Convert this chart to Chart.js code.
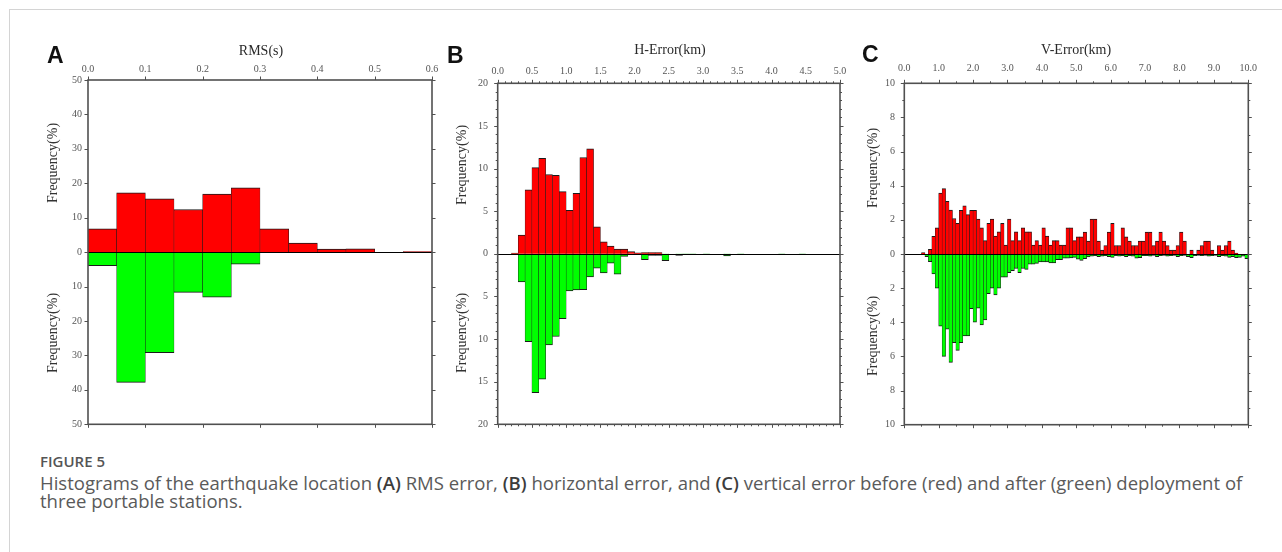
<!DOCTYPE html>
<html>
<head>
<meta charset="utf-8">
<script src="https://cdn.jsdelivr.net/npm/chart.js@4.4.1/dist/chart.umd.min.js"></script>
<style>
  html, body { margin: 0; padding: 0; background: #fff; }
  body { width: 1282px; height: 552px; position: relative; overflow: hidden; }
  .frame { position: absolute; left: 9px; top: 9px; width: 1300px; height: 600px;
           border-left: 1px solid #d4d4d4; border-top: 1px solid #d4d4d4; }
  canvas { position: absolute; }
  .cap { position: absolute; left: 40px; font-family: "Open Sans", sans-serif; color: #5a5a5a;
         white-space: nowrap; line-height: 1; }
  .cap b { font-weight: 600; color: #3c3c3c; }
</style>
</head>
<body>
<div class="frame"></div>
<canvas id="panelA" width="415" height="420" style="left:30px;top:20px"></canvas>
<canvas id="panelB" width="415" height="420" style="left:440px;top:20px"></canvas>
<canvas id="panelC" width="420" height="420" style="left:848px;top:20px"></canvas>
<div id="figLabel" class="cap" style="top:454px;font-size:15px;font-weight:600;color:#555">FIGURE 5</div>
<div id="capLine1" class="cap" style="top:474px;font-size:16px">Histograms of the earthquake location <b>(A)</b> RMS error, <b>(B)</b> horizontal error, and <b>(C)</b> vertical error before (red) and after (green) deployment of</div>
<div id="capLine2" class="cap" style="top:492px;font-size:16px">three portable stations.</div>

<script>
// ---- (A) RMS residual, 0.05 s bins ----
const rmsBinWidth = 0.05;
const rmsBinCount = 12;
const rmsBefore = [6.8, 17.2, 15.5, 12.4, 16.9, 18.7, 6.8, 2.6, 0.9, 1.0, 0, 0.15];
const rmsAfter  = [3.9, 37.8, 29.2, 11.7, 13.1, 3.5, 0, 0, 0, 0, 0, 0];
const rmsTicks = { min: 0, max: 0.6, major: 0.1 };

// ---- (B) horizontal error, 0.1 km bins ----
const hBinWidth = 0.1;
const hBinCount = 50;
const hBefore = [0, 0, 0.08, 2.2, 7.5, 10.1, 11.2, 9.3, 9.2, 7.3,
                 5.1, 7.1, 11.3, 12.3, 3.15, 1.4, 0.9, 0.55, 0.55, 0.27,
                 0.1, 0.15, 0.15, 0.15, 0, 0, 0, 0, 0, 0,
                 0, 0, 0, 0, 0, 0, 0, 0, 0, 0,
                 0, 0, 0, 0, 0, 0, 0, 0, 0, 0];
const hAfter  = [0, 0, 0.08, 3.3, 10.3, 16.3, 14.7, 10.7, 9.7, 7.6,
                 4.35, 4.25, 4.2, 2.7, 1.7, 2.25, 1.1, 2.4, 0.3, 0,
                 0, 0.7, 0.2, 0.2, 0.8, 0, 0.2, 0.08, 0.08, 0,
                 0.08, 0, 0, 0.25, 0, 0.08, 0, 0, 0, 0,
                 0, 0.08, 0, 0, 0.08, 0, 0, 0, 0, 0];
const hTicks = { min: 0, max: 5, major: 0.5 };

// ---- (C) vertical error, 0.1 km bins ----
const vBinWidth = 0.1;
const vBinCount = 100;
const vBefore = [0, 0, 0, 0, 0, 0.08, 0, 0.27, 1.03, 1.53,
                 3.57, 3.83, 3.09, 2.58, 2.08, 1.79, 2.56, 2.82, 2.31, 2.56,
                 2.56, 2.04, 1.53, 0.78, 1.79, 2.04, 1.05, 1.3, 1.79, 0.52,
                 2.04, 0.78, 1.3, 0.78, 1.53, 1.3, 1.3, 0.52, 0.78, 0.52,
                 1.53, 1.05, 0.52, 0.78, 0.78, 0.52, 0.52, 1.53, 1.53, 0.78,
                 1.0, 1.0, 1.28, 0.76, 2.04, 2.04, 0.76, 0.23, 0.5, 1.28,
                 1.79, 0.5, 0.5, 1.53, 1.0, 0.76, 0.5, 0.5, 0.76, 0.76,
                 1.28, 1.28, 0.5, 0.76, 1.28, 0.76, 0.5, 0.23, 0.23, 0.5,
                 1.28, 0.76, 0, 0.23, 0, 0.23, 0.5, 0.76, 0.76, 0.23,
                 0, 0.5, 0.23, 0.5, 0.76, 0.23, 0.05, 0, 0, 0];
const vAfter  = [0, 0, 0, 0, 0, 0, 0.15, 0.45, 1.17, 2.0,
                 4.23, 6.0, 4.4, 6.35, 5.2, 5.65, 5.2, 4.8, 4.8, 3.2,
                 4.0, 3.17, 4.15, 3.86, 2.33, 2.0, 2.39, 2.0, 1.36, 1.36,
                 1.1, 0.97, 0.85, 1.1, 0.85, 0.9, 0.6, 0.6, 0.55, 0.47,
                 0.47, 0.47, 0.52, 0.52, 0.33, 0.33, 0.25, 0.25, 0.23, 0.2,
                 0.3, 0.37, 0.27, 0.17, 0.12, 0.1, 0.15, 0.12, 0.1, 0.15,
                 0.2, 0.1, 0.12, 0.1, 0.15, 0.1, 0.12, 0.25, 0.22, 0.1,
                 0.1, 0.12, 0.08, 0.15, 0.1, 0.08, 0.12, 0.1, 0.08, 0.15,
                 0.1, 0.08, 0.15, 0.22, 0.1, 0.08, 0.1, 0.08, 0.12, 0.1,
                 0.08, 0.15, 0.1, 0.12, 0.2, 0.15, 0.22, 0.2, 0.12, 0.28];
const vTicks = { min: 0, max: 10, major: 1.0 };

// bin centres along the error axis
function binCentres(count, width) {
  const out = [];
  for (let i = 0; i < count; i++) out.push((i + 0.5) * width);
  return out;
}

const RED = '#ff0000';
const GREEN = '#00ff00';
const EDGE = '#1a1a1a';
const AXIS = '#505050';
const SERIF = '"Liberation Serif", "Times New Roman", serif';

// frame, zero line, tick marks and panel text
const panelDecor = {
  id: 'panelDecor',
  afterDatasetsDraw(chart, args, o) {
    const { ctx, chartArea: a, scales: { x, y } } = chart;
    ctx.save();

    // zero line
    const y0 = Math.round(y.getPixelForValue(0)) + 0.5;
    ctx.strokeStyle = '#000';
    ctx.lineWidth = 1;
    ctx.beginPath(); ctx.moveTo(a.left, y0); ctx.lineTo(a.right, y0); ctx.stroke();

    // tick marks on all four sides
    ctx.strokeStyle = AXIS;
    ctx.lineWidth = 1;
    const xTicks = (step, len) => {
      const n = Math.round((x.max - x.min) / step);
      for (let k = 0; k <= n; k++) {
        const px = Math.round(x.getPixelForValue(x.min + k * step)) + 0.5;
        ctx.beginPath();
        ctx.moveTo(px, a.top - len); ctx.lineTo(px, a.top);
        ctx.moveTo(px, a.bottom); ctx.lineTo(px, a.bottom + len);
        ctx.stroke();
      }
    };
    const yTicks = (step, len) => {
      const n = Math.round((y.max - y.min) / step);
      for (let k = 0; k <= n; k++) {
        const py = Math.round(y.getPixelForValue(y.min + k * step)) + 0.5;
        ctx.beginPath();
        ctx.moveTo(a.left - len, py); ctx.lineTo(a.left, py);
        ctx.moveTo(a.right, py); ctx.lineTo(a.right + len, py);
        ctx.stroke();
      }
    };
    if (o.xMinor) xTicks(o.xMinor, 2);
    if (o.yMinor) yTicks(o.yMinor, 2);
    xTicks(o.xMajor, 3.5);
    yTicks(o.yMajor, 3.5);

    // frame
    ctx.strokeStyle = AXIS;
    ctx.lineWidth = 1.6;
    ctx.strokeRect(a.left, a.top, a.right - a.left, a.bottom - a.top);

    // texts (positions given in page coordinates)
    const ox = o.offset[0], oy = o.offset[1];
    ctx.fillStyle = '#111';
    ctx.font = 'bold 23px "Liberation Sans", Arial, sans-serif';
    ctx.textAlign = 'left';
    ctx.textBaseline = 'alphabetic';
    ctx.fillText(o.letter, o.letterAt[0] - ox, o.letterAt[1] - oy);

    ctx.fillStyle = '#2a2a2a';
    ctx.font = '14px ' + SERIF;
    ctx.textAlign = 'center';
    ctx.textBaseline = 'middle';
    ctx.fillText(o.title, o.titleAt[0] - ox, o.titleAt[1] - oy);

    ctx.font = '14px ' + SERIF;
    ctx.fillStyle = '#333';
    for (const yy of o.freqAt.slice(1)) {
      ctx.save();
      ctx.translate(o.freqAt[0] - ox, yy - oy);
      ctx.rotate(-Math.PI / 2);
      ctx.fillText('Frequency(%)', 0, 0);
      ctx.restore();
    }
    ctx.restore();
  }
};

function makePanel(id, cfg) {
  const canvas = document.getElementById(id);
  const cx = parseFloat(canvas.style.left), cy = parseFloat(canvas.style.top);
  const cw = canvas.width, ch = canvas.height;
  const [L, T, R, B] = cfg.area;
  const centres = binCentres(cfg.count, cfg.width);
  const barStyle = {
    borderColor: EDGE,
    borderWidth: { top: 1, bottom: 1, left: 0.5, right: 0.5 },
    borderSkipped: 'start',
    barPercentage: 1,
    categoryPercentage: 1,
    grouped: false
  };
  return new Chart(canvas, {
    type: 'bar',
    data: {
      datasets: [
        Object.assign({ label: 'before', backgroundColor: RED,
          data: centres.map((c, i) => ({ x: c, y: cfg.before[i] })) }, barStyle),
        Object.assign({ label: 'after', backgroundColor: GREEN,
          data: centres.map((c, i) => ({ x: c, y: -cfg.after[i] })) }, barStyle)
      ]
    },
    options: {
      responsive: false,
      animation: false,
      devicePixelRatio: 1,
      layout: { padding: { left: 0, top: 0, right: cx + cw - R, bottom: cy + ch - B } },
      plugins: {
        legend: { display: false },
        tooltip: { enabled: false },
        panelDecor: cfg.decor
      },
      scales: {
        x: {
          type: 'linear', position: 'top', offset: false,
          min: cfg.ticks.min, max: cfg.ticks.max,
          grid: { display: false, drawTicks: false, offset: false },
          border: { display: false },
          ticks: {
            stepSize: cfg.ticks.major, autoSkip: false, maxRotation: 0,
            padding: cfg.xPad, color: '#555', font: { family: SERIF, size: 10 },
            callback: v => Number(v).toFixed(1)
          },
          afterFit: s => { s.height = T - cy; }
        },
        y: {
          type: 'linear', position: 'left',
          min: -cfg.yMax, max: cfg.yMax,
          grid: { display: false, drawTicks: false },
          border: { display: false },
          ticks: {
            stepSize: cfg.yStep, padding: cfg.yPad, color: '#555',
            font: { family: SERIF, size: 10 },
            callback: v => String(Math.abs(v))
          },
          afterFit: s => { s.width = L - cx; }
        }
      }
    },
    plugins: [panelDecor]
  });
}

makePanel('panelA', {
  count: rmsBinCount, width: rmsBinWidth, before: rmsBefore, after: rmsAfter,
  ticks: rmsTicks, yMax: 50, yStep: 10,
  area: [88, 80, 432, 424.3], xPad: 5, yPad: 6,
  decor: { offset: [30, 20], letter: 'A', letterAt: [47, 63], title: 'RMS(s)', titleAt: [261, 51.5],
           freqAt: [53, 163, 333], xMajor: 0.1, yMajor: 10 }
});

makePanel('panelB', {
  count: hBinCount, width: hBinWidth, before: hBefore, after: hAfter,
  ticks: hTicks, yMax: 20, yStep: 5,
  area: [497.7, 83.3, 840, 426], xPad: 5.8, yPad: 9.7,
  decor: { offset: [440, 20], letter: 'B', letterAt: [447, 63], title: 'H-Error(km)', titleAt: [670, 50.5],
           freqAt: [462, 165, 333], xMajor: 0.5, xMinor: 0.1, yMajor: 5, yMinor: 1 }
});

makePanel('panelC', {
  count: vBinCount, width: vBinWidth, before: vBefore, after: vAfter,
  ticks: vTicks, yMax: 10, yStep: 2,
  area: [904.3, 83.3, 1248.3, 427.3], xPad: 9.3, yPad: 9.3,
  decor: { offset: [848, 20], letter: 'C', letterAt: [862, 62], title: 'V-Error(km)', titleAt: [1076, 50.5],
           freqAt: [873, 168, 336], xMajor: 1.0, xMinor: 0.5, yMajor: 2, yMinor: 1 }
});

// caption: scale the text so the first line spans the figure width
(function fitCaption() {
  const l1 = document.getElementById('capLine1');
  const l2 = document.getElementById('capLine2');
  const w = l1.getBoundingClientRect().width;
  const size = 16 * 1203 / w;
  l1.style.fontSize = size + 'px';
  l2.style.fontSize = size + 'px';
})();
</script>
</body>
</html>
